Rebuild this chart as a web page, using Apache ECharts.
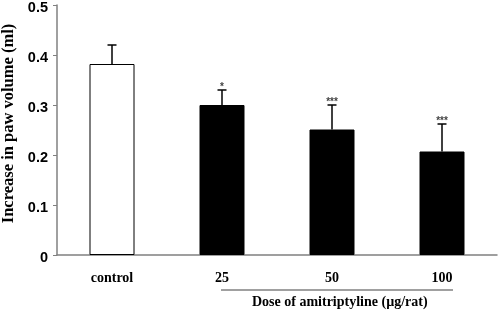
<!DOCTYPE html>
<html>
<head>
<meta charset="utf-8">
<script src="https://cdn.jsdelivr.net/npm/echarts@6/dist/echarts.min.js"></script>
<style>
html,body{margin:0;padding:0;background:#fff;}
#chart{width:498px;height:310px;}
</style>
</head>
<body>
<div id="chart"></div>
<script>
var categories = ['control', '25', '50', '100'];
var means = [0.382, 0.300, 0.251, 0.207];
var errors = [0.038, 0.030, 0.049, 0.055];
var stars = ['', '*', '***', '***'];
var yTicks = [0, 0.1, 0.2, 0.3, 0.4, 0.5];
var xTitle = 'Dose of amitriptyline (\u00b5g/rat)';
var yTitle = 'Increase in paw volume (ml)';

var chart = echarts.init(document.getElementById('chart'), null, {renderer: 'canvas'});
var axisColor = '#808080';
var serif = '"Liberation Serif", "Times New Roman", serif';
var sans = '"Liberation Sans", Arial, sans-serif';

var option = {
  animation: false,
  backgroundColor: '#ffffff',
  grid: {left: 57, right: 1, top: 5, bottom: 55, containLabel: false, outerBoundsMode: 'none'},
  xAxis: {
    type: 'category',
    data: categories,
    axisLine: {lineStyle: {color: axisColor, width: 1.5}},
    axisTick: {show: false},
    axisLabel: {color: '#000', fontFamily: serif, fontWeight: 'bold', fontSize: 14, margin: 16}
  },
  yAxis: {
    type: 'value',
    min: yTicks[0],
    max: yTicks[yTicks.length - 1],
    interval: 0.1,
    name: yTitle,
    nameLocation: 'middle',
    nameRotate: 90,
    nameGap: 40,
    nameTextStyle: {color: '#000', fontFamily: serif, fontWeight: 'bold', fontSize: 16.5, padding: [0, 0, 0, 13]},
    axisLine: {show: true, lineStyle: {color: axisColor, width: 1.5}},
    axisTick: {show: true, inside: false, length: 4, lineStyle: {color: axisColor}},
    splitLine: {show: false},
    axisLabel: {color: '#000', fontFamily: sans, fontWeight: 'bold', fontSize: 14.5, margin: 9,
      formatter: function (v) { return '{t|' + (v === 0 ? '0' : v.toFixed(1)) + '}'; },
      rich: {t: {fontFamily: sans, fontWeight: 'bold', fontSize: 14.5, color: '#000', padding: [5, 0, 0, 0]}}}
  },
  series: [
    {
      type: 'bar',
      barWidth: 45,
      data: means.map(function (m, i) {
        return {value: m, itemStyle: i === 0
          ? {color: '#ffffff', borderColor: '#000', borderWidth: 1}
          : {color: '#000000', borderColor: '#000', borderWidth: 1}};
      }),
      z: 2
    },
    {
      type: 'custom',
      z: 3,
      data: means.map(function (m, i) { return [i, m, m + errors[i], stars[i]]; }),
      renderItem: function (params, api) {
        var x = api.value(0);
        var p0 = api.coord([x, api.value(1)]);
        var p1 = api.coord([x, api.value(2)]);
        var cap = 4.5;
        var children = [
          {type: 'line', shape: {x1: p0[0], y1: p0[1], x2: p1[0], y2: p1[1]}, style: {stroke: '#000', lineWidth: 1.5}},
          {type: 'line', shape: {x1: p1[0] - cap, y1: p1[1], x2: p1[0] + cap, y2: p1[1]}, style: {stroke: '#000', lineWidth: 1.5}}
        ];
        var s = stars[params.dataIndex];
        if (s) {
          children.push({type: 'text', style: {text: s, x: p1[0], y: p1[1] + 2, align: 'center', verticalAlign: 'bottom',
            font: 'bold 10px ' + sans, fill: '#444'}});
        }
        return {type: 'group', children: children};
      }
    }
  ]
};
chart.setOption(option);

var pStart = chart.convertToPixel({xAxisIndex: 0, yAxisIndex: 0}, [1, 0]);
var pEnd = chart.convertToPixel({xAxisIndex: 0, yAxisIndex: 0}, [3, 0]);
chart.setOption({
  graphic: [
    {type: 'line', shape: {x1: pStart[0] - 1, y1: pStart[1] + 35, x2: pEnd[0] + 11, y2: pStart[1] + 35},
      style: {stroke: axisColor, lineWidth: 1.5}},
    {type: 'text', style: {text: xTitle, x: 252, y: pStart[1] + 47, verticalAlign: 'middle',
      font: 'bold 14px ' + serif, fill: '#000'}}
  ]
});
</script>
</body>
</html>
